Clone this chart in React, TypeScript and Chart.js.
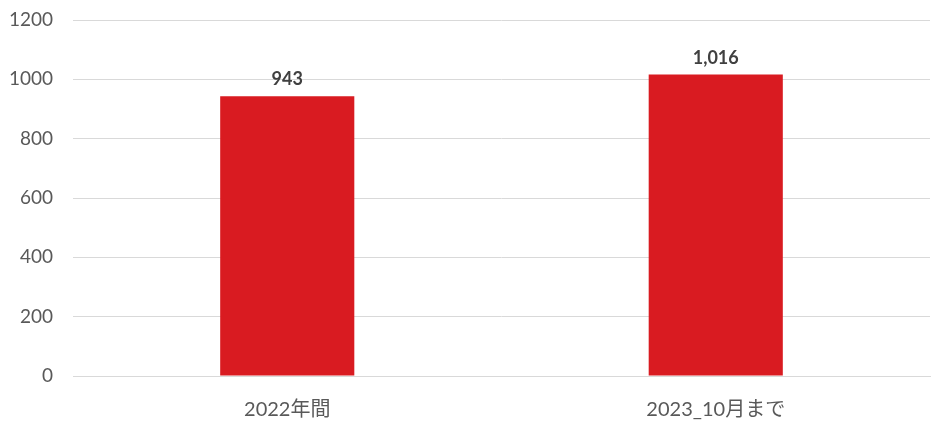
import React, { useEffect, useRef } from "react";
import { Chart, registerables } from "chart.js";

Chart.register(...registerables);

const categories = ["2022年間", "2023_10月まで"];
const values = [943, 1016];
const yTicks = [0, 200, 400, 600, 800, 1000, 1200];

const FONT = "Lato, 'Noto Sans CJK JP', sans-serif";

const valueLabels = {
  id: "valueLabels",
  afterDatasetsDraw(chart: any) {
    const ctx = chart.ctx;
    const meta = chart.getDatasetMeta(0);
    ctx.save();
    ctx.font = `bold 18px ${FONT}`;
    ctx.fillStyle = "#404040";
    ctx.textAlign = "center";
    ctx.textBaseline = "alphabetic";
    meta.data.forEach((bar: any, i: number) => {
      const v = values[i];
      ctx.fillText(v.toLocaleString("en-US"), bar.x, bar.y - 11);
    });
    ctx.restore();
  },
};

export default function App() {
  const ref = useRef<HTMLCanvasElement>(null);
  useEffect(() => {
    document.body.style.margin = "0";
    const chart = new Chart(ref.current!, {
      type: "bar",
      data: {
        labels: categories,
        datasets: [
          {
            data: values,
            backgroundColor: "#D91B21",
            barPercentage: 0.313,
            categoryPercentage: 1,
          },
        ],
      },
      options: {
        animation: false,
        responsive: false,
        maintainAspectRatio: false,
        layout: { padding: { top: 20, right: 15, left: 0, bottom: 0 } },
        plugins: { legend: { display: false }, tooltip: { enabled: false } },
        scales: {
          x: {
            grid: { display: false, drawTicks: false },
            border: { display: true, color: "#d9d9d9" },
            ticks: {
              font: { family: FONT, size: 20 },
              color: "#595959",
              padding: 22,
            },
            afterFit(scale: any) {
              scale.height = 59;
            },
          },
          y: {
            min: 0,
            max: 1200,
            afterBuildTicks(scale: any) {
              scale.ticks = yTicks.map((v) => ({ value: v }));
            },
            grid: { color: "#d9d9d9", drawTicks: false },
            border: { display: false },
            ticks: {
              font: { family: FONT, size: 19 },
              color: "#595959",
              padding: 20,
              callback: (v: any) => String(v),
            },
            afterFit(scale: any) {
              scale.width = 73;
              scale.paddingTop = 0;
              scale.paddingBottom = 0;
            },
          },
        },
      },
      plugins: [valueLabels],
    });
    return () => chart.destroy();
  }, []);
  return (
    <div style={{ width: 945, height: 435 }}>
      <canvas ref={ref} width={945} height={435} style={{ width: 945, height: 435 }} />
    </div>
  );
}
